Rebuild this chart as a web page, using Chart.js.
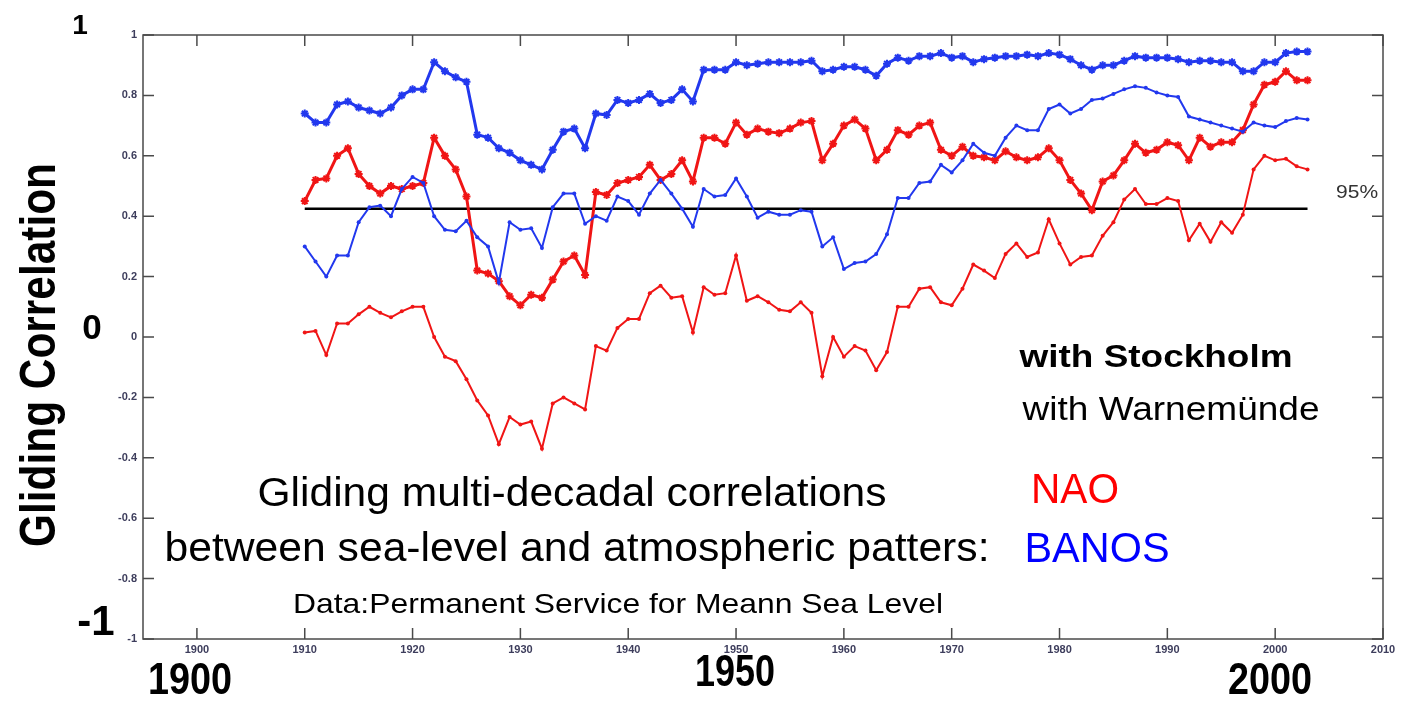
<!DOCTYPE html>
<html>
<head>
<meta charset="utf-8">
<title>Gliding Correlation</title>
<script src="https://cdn.jsdelivr.net/npm/chart.js@4.4.1/dist/chart.umd.min.js"></script>
<style>
  html, body { margin: 0; padding: 0; background: #fff; }
  #graph-canvas { display: block; }
</style>
</head>
<body>
<canvas id="graph-canvas" width="1404" height="701"></canvas>
<script>
// yearly gliding correlations
const years = [
  1910, 1911, 1912, 1913, 1914, 1915, 1916, 1917, 1918, 1919,
  1920, 1921, 1922, 1923, 1924, 1925, 1926, 1927, 1928, 1929,
  1930, 1931, 1932, 1933, 1934, 1935, 1936, 1937, 1938, 1939,
  1940, 1941, 1942, 1943, 1944, 1945, 1946, 1947, 1948, 1949,
  1950, 1951, 1952, 1953, 1954, 1955, 1956, 1957, 1958, 1959,
  1960, 1961, 1962, 1963, 1964, 1965, 1966, 1967, 1968, 1969,
  1970, 1971, 1972, 1973, 1974, 1975, 1976, 1977, 1978, 1979,
  1980, 1981, 1982, 1983, 1984, 1985, 1986, 1987, 1988, 1989,
  1990, 1991, 1992, 1993, 1994, 1995, 1996, 1997, 1998, 1999,
  2000, 2001, 2002, 2003
];

// Stockholm vs BANOS (thick blue)
const stockholmBanos = [
  0.74, 0.71, 0.71, 0.77, 0.78, 0.76, 0.75, 0.74, 0.76, 0.80,
  0.82, 0.82, 0.91, 0.88, 0.86, 0.845, 0.67, 0.66, 0.625, 0.61,
  0.585, 0.57, 0.555, 0.62, 0.68, 0.69, 0.625, 0.74, 0.735, 0.785,
  0.775, 0.785, 0.805, 0.775, 0.785, 0.82, 0.78, 0.885, 0.885, 0.885,
  0.91, 0.90, 0.905, 0.91, 0.91, 0.91, 0.91, 0.915, 0.88, 0.885,
  0.895, 0.895, 0.885, 0.865, 0.905, 0.925, 0.915, 0.93, 0.93, 0.94,
  0.925, 0.93, 0.91, 0.92, 0.925, 0.93, 0.93, 0.935, 0.93, 0.94,
  0.935, 0.92, 0.90, 0.885, 0.90, 0.90, 0.915, 0.93, 0.925, 0.925,
  0.925, 0.92, 0.91, 0.915, 0.915, 0.91, 0.91, 0.88, 0.88, 0.91,
  0.91, 0.94, 0.945, 0.945
];

// Stockholm vs NAO (thick red)
const stockholmNao = [
  0.45, 0.52, 0.525, 0.60, 0.625, 0.54, 0.50, 0.475, 0.50, 0.49,
  0.50, 0.51, 0.66, 0.60, 0.555, 0.465, 0.22, 0.21, 0.185, 0.135,
  0.105, 0.14, 0.13, 0.19, 0.25, 0.27, 0.205, 0.48, 0.47, 0.51,
  0.52, 0.53, 0.57, 0.52, 0.54, 0.585, 0.515, 0.66, 0.66, 0.64,
  0.71, 0.67, 0.69, 0.68, 0.675, 0.69, 0.71, 0.715, 0.585, 0.64,
  0.70, 0.72, 0.69, 0.585, 0.62, 0.685, 0.67, 0.70, 0.71, 0.62,
  0.60, 0.63, 0.60, 0.595, 0.585, 0.615, 0.595, 0.585, 0.595, 0.625,
  0.585, 0.52, 0.475, 0.42, 0.515, 0.535, 0.585, 0.64, 0.61, 0.62,
  0.645, 0.635, 0.585, 0.66, 0.63, 0.645, 0.645, 0.685, 0.77, 0.835,
  0.845, 0.88, 0.85, 0.85
];

// Warnemuende vs BANOS (thin blue)
const warnemuendeBanos = [
  0.30, 0.25, 0.20, 0.27, 0.27, 0.38, 0.43, 0.435, 0.40, 0.49,
  0.53, 0.51, 0.40, 0.355, 0.35, 0.385, 0.33, 0.30, 0.18, 0.38,
  0.355, 0.36, 0.295, 0.43, 0.475, 0.475, 0.375, 0.40, 0.385, 0.465,
  0.45, 0.405, 0.475, 0.52, 0.475, 0.425, 0.365, 0.49, 0.465, 0.47,
  0.525, 0.465, 0.395, 0.415, 0.405, 0.405, 0.42, 0.415, 0.30, 0.33,
  0.225, 0.245, 0.25, 0.275, 0.34, 0.46, 0.46, 0.51, 0.515, 0.57,
  0.545, 0.585, 0.64, 0.61, 0.60, 0.66, 0.70, 0.685, 0.685, 0.755,
  0.77, 0.74, 0.755, 0.785, 0.79, 0.805, 0.82, 0.83, 0.825, 0.81,
  0.80, 0.795, 0.73, 0.72, 0.71, 0.70, 0.69, 0.68, 0.71, 0.70,
  0.695, 0.715, 0.725, 0.72
];

// Warnemuende vs NAO (thin red)
const warnemuendeNao = [
  0.015, 0.02, -0.06, 0.045, 0.045, 0.075, 0.10, 0.08, 0.065, 0.085,
  0.10, 0.10, 0.0, -0.065, -0.08, -0.14, -0.21, -0.26, -0.355, -0.265,
  -0.29, -0.28, -0.37, -0.22, -0.20, -0.22, -0.24, -0.03, -0.045, 0.03,
  0.06, 0.06, 0.145, 0.17, 0.13, 0.135, 0.015, 0.165, 0.14, 0.145,
  0.27, 0.12, 0.135, 0.115, 0.09, 0.085, 0.115, 0.08, -0.13, 0.0,
  -0.065, -0.03, -0.045, -0.11, -0.05, 0.10, 0.10, 0.16, 0.165, 0.115,
  0.105, 0.16, 0.24, 0.22, 0.195, 0.275, 0.31, 0.265, 0.28, 0.39,
  0.31, 0.24, 0.265, 0.27, 0.335, 0.38, 0.455, 0.49, 0.44, 0.44,
  0.46, 0.45, 0.32, 0.375, 0.315, 0.38, 0.345, 0.405, 0.555, 0.60,
  0.585, 0.59, 0.565, 0.555
];

// 95% significance level
const thresholdYears = [1910, 2003];
const thresholdLevel = [0.425, 0.425];

const xTickValues = [1900, 1910, 1920, 1930, 1940, 1950, 1960, 1970, 1980, 1990, 2000, 2010];
const yTickValues = [-1, -0.8, -0.6, -0.4, -0.2, 0, 0.2, 0.4, 0.6, 0.8, 1];

const BLUE = '#2238ee';
const RED = '#f01515';
const SANS = '"Liberation Sans", Arial, sans-serif';

function toPoints(xs, ys) {
  return xs.map((x, i) => ({ x: x, y: ys[i] }));
}

// text drawn onto the canvas, optionally squeezed/stretched to a target width
function drawText(ctx, t) {
  ctx.save();
  ctx.font = t.font + ' ' + SANS;
  ctx.fillStyle = t.color || '#000';
  ctx.textAlign = 'center';
  ctx.textBaseline = 'middle';
  ctx.translate(t.x, t.y);
  if (t.rot) ctx.rotate(t.rot);
  if (t.w) {
    const m = ctx.measureText(t.text).width;
    ctx.scale(t.w / m, 1);
  }
  ctx.fillText(t.text, 0, 0);
  ctx.restore();
}

const labels = [
  { text: '1', x: 80, y: 26, font: 'bold 28px' },
  { text: '0', x: 92, y: 329, font: 'bold 35px' },
  { text: '-1', x: 96, y: 623, font: 'bold 42px' },
  { text: '1900', x: 190, y: 682, w: 84, font: 'bold 45px' },
  { text: '1950', x: 735, y: 674, w: 80, font: 'bold 45px' },
  { text: '2000', x: 1270, y: 682, w: 84, font: 'bold 45px' },
  { text: 'Gliding Correlation', x: 41, y: 355, w: 384, rot: -Math.PI / 2, font: 'bold 50px' },
  { text: 'Gliding multi-decadal correlations', x: 572, y: 495, w: 629, font: '40px' },
  { text: 'between sea-level and atmospheric patters:', x: 577, y: 550, w: 825, font: '40px' },
  { text: 'Data:Permanent Service for Meann Sea Level', x: 618, y: 605, w: 650, font: '28px' },
  { text: 'with Stockholm', x: 1156, y: 358, w: 273, font: 'bold 32px' },
  { text: 'with Warnemünde', x: 1171, y: 411, w: 297, font: '33px' },
  { text: 'NAO', x: 1075, y: 491, w: 88, font: '42px', color: '#ff0000' },
  { text: 'BANOS', x: 1097, y: 550, w: 145, font: '42px', color: '#0000ff' }
];

const framePlugin = {
  id: 'frame',
  beforeDatasetsDraw(chart) {
    const { ctx, chartArea: a, scales } = chart;
    ctx.save();
    ctx.strokeStyle = '#4a4a4a';
    ctx.lineWidth = 1.5;
    ctx.strokeRect(a.left, a.top, a.right - a.left, a.bottom - a.top);
    ctx.beginPath();
    scales.x.ticks.forEach(t => {
      const px = scales.x.getPixelForValue(t.value);
      ctx.moveTo(px, a.bottom); ctx.lineTo(px, a.bottom - 11);
      ctx.moveTo(px, a.top); ctx.lineTo(px, a.top + 11);
    });
    scales.y.ticks.forEach(t => {
      const py = scales.y.getPixelForValue(t.value);
      ctx.moveTo(a.left, py); ctx.lineTo(a.left + 11, py);
      ctx.moveTo(a.right, py); ctx.lineTo(a.right - 11, py);
    });
    ctx.stroke();
    ctx.restore();
  },
  afterDraw(chart) {
    const { ctx, scales } = chart;
    labels.forEach(t => drawText(ctx, t));
    drawText(ctx, {
      text: '95%',
      x: scales.x.getPixelForValue(2007.6),
      y: scales.y.getPixelForValue(0.478),
      w: 42, font: '18px', color: '#333333'
    });
  }
};

const tickFont = { family: SANS, size: 11, weight: 'bold' };

new Chart(document.getElementById('graph-canvas'), {
  type: 'line',
  data: {
    datasets: [
      {
        label: 'Warnemünde NAO',
        data: toPoints(years, warnemuendeNao),
        borderColor: RED, backgroundColor: RED,
        borderWidth: 2, pointRadius: 2, pointStyle: 'circle', pointBorderWidth: 0
      },
      {
        label: 'Warnemünde BANOS',
        data: toPoints(years, warnemuendeBanos),
        borderColor: BLUE, backgroundColor: BLUE,
        borderWidth: 2, pointRadius: 2, pointStyle: 'circle', pointBorderWidth: 0
      },
      {
        label: 'Stockholm NAO',
        data: toPoints(years, stockholmNao),
        borderColor: RED, backgroundColor: RED,
        borderWidth: 3, pointRadius: 4, pointStyle: 'star', pointBorderWidth: 2
      },
      {
        label: 'Stockholm BANOS',
        data: toPoints(years, stockholmBanos),
        borderColor: BLUE, backgroundColor: BLUE,
        borderWidth: 3, pointRadius: 4, pointStyle: 'star', pointBorderWidth: 2
      },
      {
        label: '95%',
        data: toPoints(thresholdYears, thresholdLevel),
        borderColor: '#000', borderWidth: 2.5, pointRadius: 0
      }
    ]
  },
  options: {
    responsive: false,
    animation: false,
    devicePixelRatio: 1,
    layout: { padding: { top: 35, right: 21, left: 0, bottom: 0 } },
    plugins: { legend: { display: false }, tooltip: { enabled: false } },
    elements: { line: { tension: 0 } },
    scales: {
      x: {
        type: 'linear', min: 1895, max: 2010,
        grid: { display: false, drawTicks: false },
        border: { display: false },
        afterBuildTicks: s => { s.ticks = xTickValues.map(v => ({ value: v })); },
        afterFit: s => { s.height = 62; },
        ticks: {
          padding: 4, maxRotation: 0, autoSkip: false,
          color: '#3d3d5c', font: tickFont,
          callback: v => String(v)
        }
      },
      y: {
        min: -1, max: 1,
        grid: { display: false, drawTicks: false },
        border: { display: false },
        afterBuildTicks: s => { s.ticks = yTickValues.map(v => ({ value: v })); },
        afterFit: s => { s.width = 143; },
        ticks: {
          padding: 6, autoSkip: false,
          color: '#3d3d5c', font: tickFont,
          callback: v => String(Math.round(v * 10) / 10)
        }
      }
    }
  },
  plugins: [framePlugin]
});
</script>
</body>
</html>
